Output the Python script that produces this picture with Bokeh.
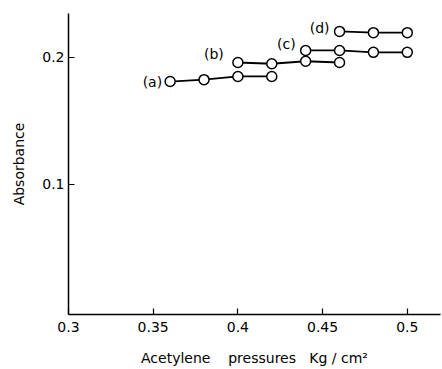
from bokeh.plotting import figure
from bokeh.models import FixedTicker, Range1d, ColumnDataSource
from bokeh.core.properties import value
from bokeh.embed import file_html
from bokeh.resources import INLINE

# data
series_names = ["(a)", "(b)", "(c)", "(d)"]
x_a = [0.36, 0.38, 0.40, 0.42]
y_a = [0.181, 0.1825, 0.185, 0.185]
x_b = [0.40, 0.42, 0.44, 0.46]
y_b = [0.196, 0.195, 0.197, 0.196]
x_c = [0.44, 0.46, 0.48, 0.50]
y_c = [0.2055, 0.2055, 0.204, 0.204]
x_d = [0.46, 0.48, 0.50]
y_d = [0.2205, 0.2195, 0.2195]
x_ticks = [0.3, 0.35, 0.4, 0.45, 0.5]
x_tick_labels = ["0.3", "0.35", "0.4", "0.45", "0.5"]
y_ticks = [0.1, 0.2]
y_tick_labels = ["0.1", "0.2"]

FONT = "DejaVu Sans"
NB = "\u00a0"

p = figure(width=442, height=369, output_backend="svg", toolbar_location=None,
           x_range=Range1d(0.3, 0.5196), y_range=Range1d(-0.0025, 0.2346),
           min_border_left=68, min_border_right=2, min_border_top=13, min_border_bottom=55)
p.outline_line_color = None
p.xgrid.visible = False
p.ygrid.visible = False
p.background_fill_color = "white"
p.border_fill_color = "white"

for ax in (p.xaxis[0], p.yaxis[0]):
    ax.axis_line_color = "black"
    ax.axis_line_width = 1.5
    ax.major_tick_in = 6
    ax.major_tick_out = 0
    ax.major_tick_line_width = 1.2
    ax.minor_tick_line_color = None
    ax.major_label_text_font = FONT
    ax.major_label_text_font_size = "14px"
    ax.major_label_text_color = "black"
    ax.axis_label_text_font = FONT
    ax.axis_label_text_font_size = "14px"
    ax.axis_label_text_font_style = "normal"
    ax.axis_label_text_color = "black"

p.xaxis.ticker = FixedTicker(ticks=x_ticks)
p.xaxis.major_label_overrides = dict(zip(x_ticks, x_tick_labels))
p.yaxis.ticker = FixedTicker(ticks=y_ticks)
p.yaxis.major_label_overrides = dict(zip(y_ticks, y_tick_labels))
p.xaxis.axis_label = "Acetylene" + NB * 4 + "pressures" + NB * 3 + "Kg" + NB + "/" + NB + "cm\u00b2"
p.yaxis.axis_label = "Absorbance"
p.xaxis.major_label_standoff = 7
p.xaxis.axis_label_standoff = 15
p.yaxis.major_label_standoff = 4
p.yaxis.axis_label_standoff = 12

xs_all = [x_a, x_b, x_c, x_d]
ys_all = [y_a, y_b, y_c, y_d]
label_offsets = [(-8, 0, "right", "middle"), (-24, -9, "center", "middle"),
                 (-10, -6, "right", "middle"), (-10, -3, "right", "middle")]

for name, xs, ys, (dx, dy, al, bl) in zip(series_names, xs_all, ys_all, label_offsets):
    p.line(xs, ys, line_color="black", line_width=1.8)
    p.scatter(xs, ys, size=10, marker="circle", fill_color="white",
              line_color="black", line_width=1.5)
    src = ColumnDataSource(dict(x=[xs[0]], y=[ys[0]], t=[name]))
    p.text(x="x", y="y", text="t", source=src, x_offset=dx, y_offset=dy,
           text_align=al, text_baseline=bl, text_font=value(FONT),
           text_font_size="14px", text_color="black")

open("out.html", "w").write(file_html(p, INLINE))
